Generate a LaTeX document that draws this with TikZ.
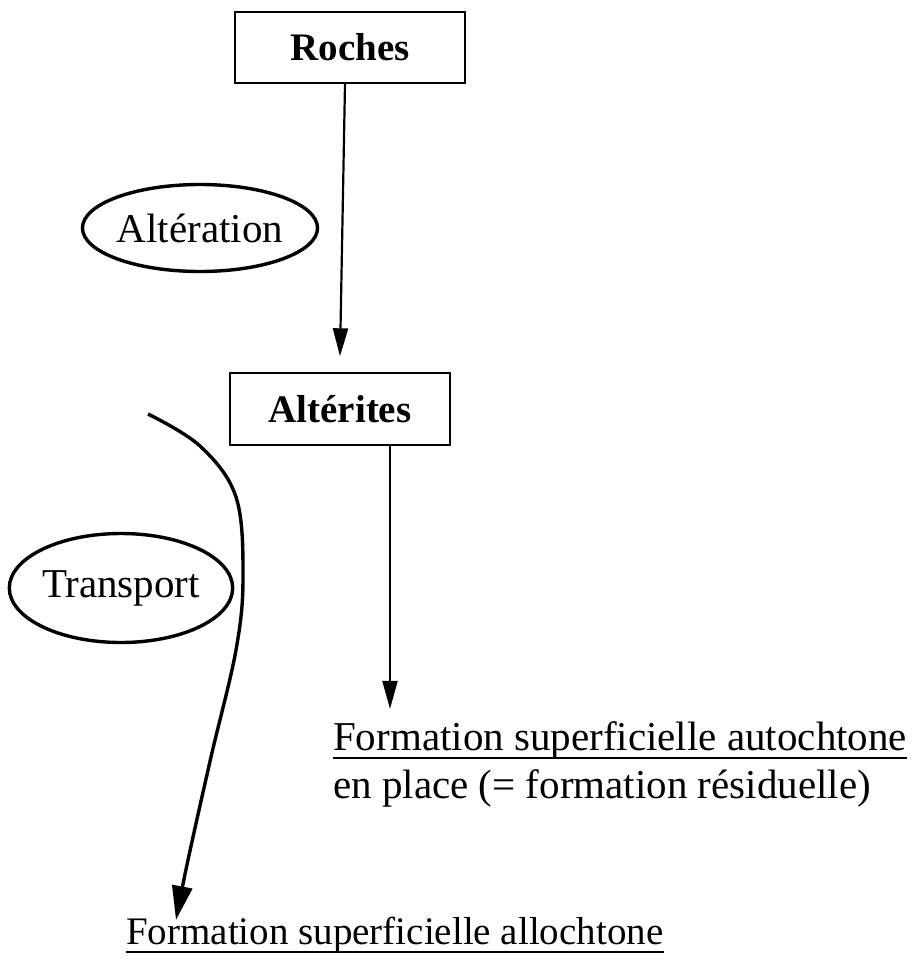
\documentclass[tikz,border=0pt]{standalone}
\usepackage{fontspec}
\setmainfont{Liberation Serif}
\usetikzlibrary{arrows.meta,shapes.geometric}
\begin{document}
\begin{tikzpicture}[x=1pt,y=-1pt,
  box/.style={draw,line width=1.4pt,minimum width=#1,minimum height=71pt,inner sep=0pt,font=\fontsize{39}{46}\selectfont\bfseries},
  bubble/.style={draw,ellipse,line width=3.4pt,inner sep=0pt,font=\fontsize{41}{48}\selectfont},
  lbl/.style={inner sep=0pt,font=\fontsize{41}{48}\selectfont,anchor=base west},
  arr/.style={line width=2.2pt,-{Triangle[length=28pt,width=15pt]}},
  uline/.style={line width=2.2pt}]
\useasboundingbox (0,0) rectangle (915,969);
\node[box=230pt] (roches) at (350,47.5) {Roches};
\node[box=220pt,minimum height=72pt] (alterites) at (340,409) {Altérites};
\node[bubble,minimum width=235pt,minimum height=87pt] (alteration) at (200,228) {Altération};
\node[bubble,minimum width=217pt,minimum height=109pt] (transport) at (121,588) {Transport};
\node[lbl] (auto) at (333,750) {Formation superficielle autochtone};
\node[lbl] (place) at (333,798) {en place (= formation résiduelle)};
\node[lbl,font=\fontsize{39}{46}\selectfont] (allo) at (126,944) {Formation superficielle allochtone};
\draw[uline] ([yshift=-8pt]auto.base west) -- ([yshift=-8pt]auto.base east);
\draw[uline] ([yshift=-8pt]allo.base west) -- ([yshift=-8pt]allo.base east);
\draw[arr] ([xshift=-5pt]roches.south) -- ([yshift=16pt]alterites.north);
\draw[arr] ([xshift=50pt]alterites.south) -- ([xshift=57pt,yshift=12pt]auto.north west);
\coordinate (tstart) at (148,414);
\coordinate (tend) at (176,920);
\draw[line width=3.4pt,-{Triangle[length=34pt,width=20pt]}] plot[smooth,tension=0.6] coordinates {(tstart) (200,446) (236,497) (243,577) (236,650) (211,757) (188,860) (tend)};
\end{tikzpicture}
\end{document}
